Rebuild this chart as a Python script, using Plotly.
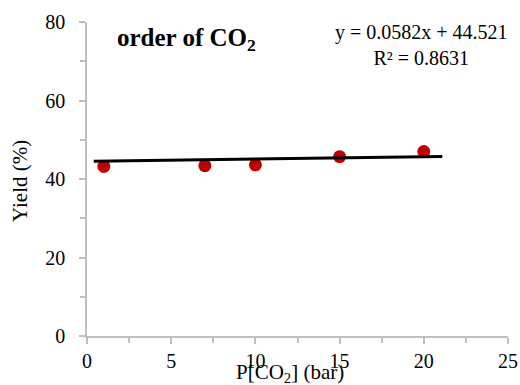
import plotly.graph_objects as go

# Data
pressure_bar = [1, 7, 10, 15, 20]
yield_pct = [43.2, 43.4, 43.6, 45.7, 47.0]
trend_slope = 0.0582
trend_intercept = 44.521
trend_x = [0.4, 21.1]
trend_y = [trend_slope * x + trend_intercept for x in trend_x]

x_ticks = [0, 5, 10, 15, 20, 25]
y_ticks = [0, 20, 40, 60, 80]

FONT = "Liberation Serif, Times New Roman, serif"
AXIS_COLOR = "#bfbfbf"

fig = go.Figure()
fig.add_trace(go.Scatter(
    x=pressure_bar, y=yield_pct, mode="markers",
    marker=dict(color="#c00000", size=13),
    showlegend=False,
))
fig.add_trace(go.Scatter(
    x=trend_x, y=trend_y, mode="lines",
    line=dict(color="black", width=3),
    showlegend=False,
))

fig.update_layout(
    width=520, height=385,
    margin=dict(l=87, r=12, t=22, b=49, autoexpand=False),
    paper_bgcolor="white", plot_bgcolor="white",
    font=dict(family=FONT, size=20, color="black"),
    xaxis=dict(
        range=[0, 25], tickvals=x_ticks, showgrid=False, zeroline=False,
        showline=True, linecolor=AXIS_COLOR, linewidth=1.5, automargin=False,
        ticks="outside", ticklen=6, tickcolor=AXIS_COLOR, tickwidth=1.5,
        minor=dict(dtick=2.5, ticks="outside", ticklen=5, tickcolor=AXIS_COLOR, tickwidth=1.5),
        tickfont=dict(size=20),
    ),
    yaxis=dict(
        range=[0, 80], tickvals=y_ticks, showgrid=False, zeroline=False,
        showline=True, linecolor=AXIS_COLOR, linewidth=1.5, automargin=False,
        ticks="outside", ticklen=6, tickcolor=AXIS_COLOR, tickwidth=1.5,
        minor=dict(dtick=10, ticks="outside", ticklen=5, tickcolor=AXIS_COLOR, tickwidth=1.5),
        tickfont=dict(size=20), ticklabelstandoff=10,
    ),
    annotations=[
        dict(text="<b>order of CO<sub>2</sub></b>", xref="paper", yref="paper",
             x=(115 - 87) / 421, y=1 - (39 - 22) / 314, xanchor="left", yanchor="middle",
             showarrow=False, font=dict(size=25)),
        dict(text="y = 0.0582x + 44.521<br>R² = 0.8631", xref="paper", yref="paper",
             x=(421 - 87) / 421, y=1 - (45 - 22) / 314, xanchor="center", yanchor="middle",
             align="center", showarrow=False, font=dict(size=20)),
        dict(text="Yield (%)", xref="paper", yref="paper",
             x=(20 - 87) / 421, y=1 - (181 - 22) / 314, xanchor="center", yanchor="middle",
             textangle=-90, showarrow=False, font=dict(size=21)),
        dict(text="P[CO<sub>2</sub>] (bar)", xref="paper", yref="paper",
             x=(290 - 87) / 421, y=1 - (373 - 22) / 314, xanchor="center", yanchor="middle",
             showarrow=False, font=dict(size=21)),
    ],
)

fig.write_html("out.html")
